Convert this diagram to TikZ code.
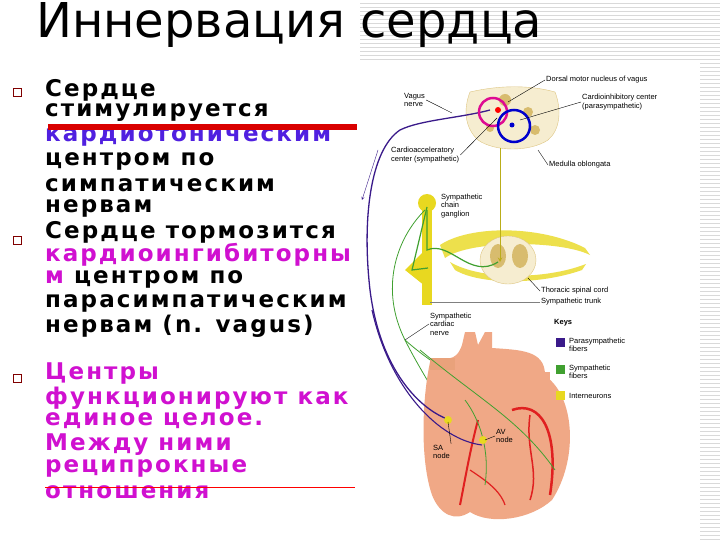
\documentclass[tikz,border=0pt]{standalone}
\usepackage{fontspec}
\setmainfont{Liberation Sans}
\newfontfamily\dejavu{DejaVu Sans}
\newfontfamily\dejavusp[LetterSpace=9]{DejaVu Sans}
\definecolor{mag}{HTML}{D010D0}
\definecolor{vio}{HTML}{5020E0}
\definecolor{cream}{HTML}{F6EDD0}
\definecolor{ochre}{HTML}{C8A030}
\definecolor{nyel}{HTML}{E8D820}
\definecolor{ngreen}{HTML}{40A030}
\definecolor{npurp}{HTML}{3A1A8A}
\definecolor{heart}{HTML}{F0A886}
\definecolor{vess}{HTML}{E02020}
\begin{document}
\begin{tikzpicture}[x=1pt,y=-1pt,
  body/.style={font=\dejavusp\bfseries\fontsize{23}{24}\selectfont,anchor=west,inner sep=0pt},
  lab/.style={font=\fontsize{7.5}{8.5}\selectfont,align=left,anchor=west,inner sep=1pt},
  lead/.style={black,thin},
  bul/.style={draw=red!50!black,thick,minimum size=8pt,inner sep=0pt}]
\useasboundingbox (0,0) rectangle (720,540);
\fill[white] (0,0) rectangle (720,540);
\foreach \y in {3,7,...,539} \draw[gray!30,line width=0.5pt] (700,\y) -- (720,\y);
\foreach \y in {3,7,...,60} \draw[gray!30,line width=0.5pt] (360,\y) -- (700,\y);
% title
\node[anchor=west,inner sep=0pt,font=\dejavu\fontsize{48}{50}\selectfont] (title) at (36,25) {Иннервация сердца};
% bullets
\node[bul] (b1) at (17,92) {};
\node[bul] (b2) at (17,240) {};
\node[bul] (b3) at (17,378) {};
% text
\node[body] (t1) at (45,90) {Сердце};
\node[body] (t2) at (45,113) {стимулируется};
\node[body,vio] (t3) at (45,137) {кардиотоническим};
\draw[red!85!black,line width=6pt] (48,127) -- (357,127);
\node[body] (t4) at (45,161) {центром по};
\node[body] (t5) at (45,185) {симпатическим};
\node[body] (t6) at (45,208) {нервам};
\node[body] (t7) at (45,232) {Сердце тормозится};
\node[body,mag] (t8) at (45,255) {кардиоингибиторны};
\node[body] (t9) at (45,279) {\textcolor{mag}{м} центром по};
\node[body] (t10) at (45,303) {парасимпатическим};
\node[body] (t11) at (45,326) {нервам (n. vagus)};
\node[body,mag] (t12) at (45,374) {Центры};
\node[body,mag] (t13) at (45,398) {функционируют как};
\node[body,mag] (t14) at (45,421) {единое целое.};
\node[body,mag] (t15) at (45,445) {Между ними};
\node[body,mag] (t16) at (45,468) {реципрокные};
\node[body,mag] (t17) at (45,492) {отношения};
\draw[red,thin] (45,487) -- (355,487);
% ---- illustration ----
\fill[cream,draw=ochre!60] (470,92) .. controls (500,85) and (530,85) .. (555,92) .. controls (562,110) and (560,130) .. (548,140) .. controls (530,152) and (495,152) .. (478,140) .. controls (465,128) and (463,110) .. (470,92) -- cycle;
\fill[ochre!70] (505,100) circle (6) (528,112) circle (5) (490,128) circle (4) (535,130) circle (5);
\fill[nyel!80] (440,245) .. controls (470,225) and (540,225) .. (585,248) -- (590,255) .. controls (560,240) and (470,240) .. (445,258) -- cycle;
\fill[nyel!80] (455,270) .. controls (480,285) and (540,285) .. (582,270) -- (586,264) .. controls (545,280) and (480,280) .. (450,262) -- cycle;
\fill[cream,draw=ochre!60] (508,260) ellipse (28 and 24);
\fill[ochre!70] (498,256) ellipse (8 and 12) (520,256) ellipse (8 and 12);
\fill[nyel] (422,198) rectangle (432,305);
\fill[nyel] (427,203) circle (9);
\fill[nyel] (405,270) -- (425,250) -- (430,290) -- cycle;
\draw[nyel!80!black,line width=1pt,-stealth] (500,148) -- (500,262);
\draw[ngreen,line width=1.2pt] (498,262) .. controls (470,280) and (450,240) .. (427,250) -- (427,210);
\draw[ngreen,line width=1.2pt] (427,207) -- (412,270) -- (428,268);
\draw[ngreen,thick] (425,210) .. controls (395,240) and (380,290) .. (405,340) .. controls (420,370) and (440,400) .. (450,420);
\draw[ngreen,thick] (405,340) .. controls (450,380) and (480,380) .. (495,440);
% heart
\fill[heart] (430,362) .. controls (445,355) and (455,365) .. (462,345) -- (465,332) -- (475,332) -- (478,345) -- (485,332) -- (492,332) -- (492,348) .. controls (520,350) and (545,350) .. (545,375) -- (548,378) .. controls (575,400) and (578,460) .. (552,500) .. controls (530,520) and (490,525) .. (470,512) .. controls (455,522) and (440,515) .. (432,495) .. controls (420,460) and (422,400) .. (430,362) -- cycle;
\fill[heart] (520,372) rectangle (550,385);
\fill[heart!85!brown] (430,358) rectangle (455,370);
\draw[vess,line width=2.5pt] (512,410) .. controls (540,400) and (560,430) .. (550,495);
\draw[vess,line width=1.5pt] (530,415) .. controls (525,450) and (540,470) .. (530,500);
\draw[vess,line width=2pt] (478,420) .. controls (470,450) and (465,480) .. (460,505);
\draw[vess,line width=1.2pt] (470,470) .. controls (485,480) and (500,490) .. (505,505);
\draw[ngreen,thick] (420,350) .. controls (480,400) and (520,420) .. (555,470);
\draw[ngreen,thick] (465,400) .. controls (480,420) and (490,450) .. (485,485);
\draw[npurp,line width=1.3pt] (490,110) .. controls (460,118) and (420,120) .. (400,130) .. controls (370,150) and (362,220) .. (370,290) .. controls (380,370) and (420,410) .. (450,420);
\draw[npurp,line width=1.1pt] (372,310) .. controls (390,390) and (440,440) .. (482,445);
\draw[npurp,-stealth] (378,150) -- (362,200);
\draw[mag!70!red,line width=2.5pt] (493,112) circle (14);
\draw[blue!80!black,line width=2.5pt] (514,126) circle (16);
\fill[red] (498,110) circle (3);
\fill[blue!80!black] (512,125) circle (2.5);
\fill[nyel] (448,420) circle (4) (483,440) circle (4);
% labels
\node[lab] (dm) at (545,80) {Dorsal motor nucleus of vagus};
\draw[lead] (dm.west) -- (508,102);
\node[lab] (vn) at (403,100) {Vagus\\nerve};
\draw[lead] (vn.east) -- (452,113);
\node[lab] (ci) at (581,102) {Cardioinhibitory center\\(parasympathetic)};
\draw[lead] (ci.west) -- (520,120);
\node[lab] (ca) at (390,155) {Cardioacceleratory\\center (sympathetic)};
\draw[lead] (ca.east) -- (497,118);
\node[lab] (mo) at (548,165) {Medulla oblongata};
\draw[lead] (mo.west) -- (538,150);
\node[lab] (sg) at (440,206) {Sympathetic\\chain\\ganglion};
\node[lab] (ts) at (540,291) {Thoracic spinal cord};
\draw[lead] (ts.west) -- (528,278);
\node[lab] (st) at (540,302) {Sympathetic trunk};
\draw[lead,gray,line width=1pt] (st.west) -- (430,302);
\node[lab] (sc) at (429,324) {Sympathetic\\cardiac\\nerve};
\draw[lead] (sc.west) -- (405,340);
\node[lab,font=\bfseries\fontsize{7.5}{8.5}\selectfont] (keys) at (553,323) {Keys};
\fill[npurp] (556,338) rectangle (565,347); \node[lab] (k1) at (568,345) {Parasympathetic\\fibers};
\fill[ngreen] (556,365) rectangle (565,374); \node[lab] (k2) at (568,372) {Sympathetic\\fibers};
\fill[nyel] (556,391) rectangle (565,400); \node[lab] (k3) at (568,396) {Interneurons};
\node[lab] (sa) at (432,452) {SA\\node};
\draw[lead] (sa.north east) -- (448,422);
\node[lab] (av) at (495,436) {AV\\node};
\draw[lead] (av.west) -- (485,440);
\end{tikzpicture}
\end{document}
